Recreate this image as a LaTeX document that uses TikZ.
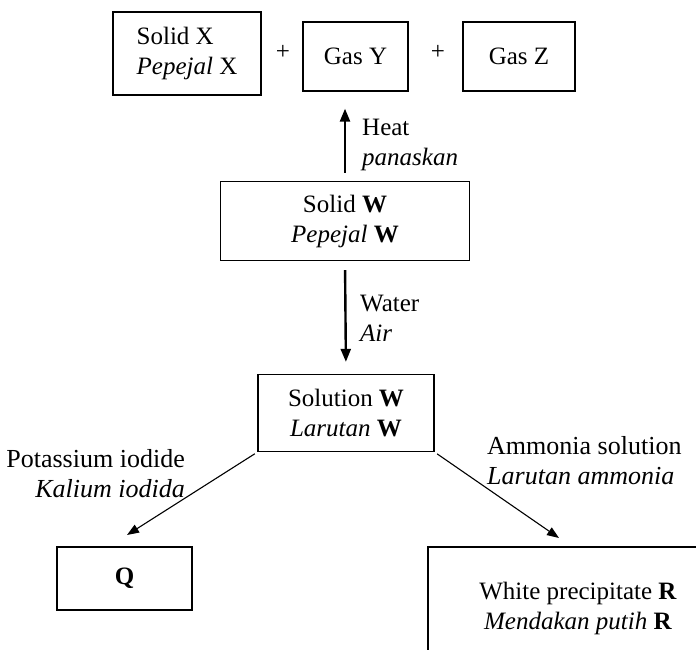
\documentclass[tikz,border=0pt]{standalone}
\usepackage{fontspec}
\setmainfont{Liberation Serif}
\usetikzlibrary{arrows.meta}
\begin{document}
\begin{tikzpicture}[x=1pt,y=-1pt,
  every node/.style={font=\fontsize{25}{30}\selectfont},
  box/.style={draw,line width=1.3pt,inner sep=0pt,align=center},
  lbl/.style={inner sep=0pt},
  side/.style={inner sep=0pt,font=\fontsize{26}{30}\selectfont},
  varr/.style={line width=2.4pt,-{Triangle[length=13pt,width=10pt]}},
  darr/.style={line width=1.1pt,-{Triangle[length=12pt,width=9pt]}}]
\useasboundingbox (0,0) rectangle (696,650);
% top row
\node[box,minimum width=148pt,minimum height=83pt,align=left] (X) at (187,53.5)
  {Solid X\\ \textit{Pepejal} X};
\node[lbl] (p1) at (283,52) {+};
\node[box,minimum width=105pt,minimum height=69pt] (Y) at (355.5,56.5) {Gas Y};
\node[lbl] (p2) at (438,52) {+};
\node[box,minimum width=112pt,minimum height=69pt] (Z) at (519,56.5) {Gas Z};
% solid W
\node[box,minimum width=249pt,minimum height=79pt] (W) at (345,221)
  {Solid \textbf{W}\\ \textit{Pepejal} \textbf{W}};
\draw[varr,shorten <=8pt,shorten >=17pt] (W.north) -- (W.north |- Y.south);
\node[lbl,align=left,anchor=west] (heat) at (362,145) {Heat\\ \textit{panaskan}};
% solution W
\node[box,minimum width=176pt,minimum height=77pt] (S) at (346,413)
  {Solution \textbf{W}\\ \textit{Larutan} \textbf{W}};
\draw[varr,shorten <=9pt,shorten >=12pt] (W.south) -- (S.north);
\node[lbl,align=left,anchor=west] (water) at (360,318) {Water\\ \textit{Air}};
% Q
\node[box,minimum width=135pt,minimum height=63pt] (Q) at (124.5,578.5) {\textbf{Q}};
\coordinate (Qtip) at (127,535);
\draw[darr,shorten <=3pt] (S.south west) -- (Qtip);
\node[side,align=right,anchor=east] (ki) at (185,474)
  {Potassium iodide\\ \textit{Kalium iodida}};
% R
\coordinate (Rc) at (428,547);
\coordinate (Rtip) at (559,538);
\draw[darr,shorten <=3pt] (S.south east) -- (Rtip);
\draw[line width=1.3pt] (Rc |- 0,650) -- (Rc) -- (696,547);
\node[lbl,align=center] (R) at (578,608)
  {White precipitate \textbf{R}\\ \textit{Mendakan putih} \textbf{R}};
\node[side,align=left,anchor=west] (am) at (487,461)
  {Ammonia solution\\ \textit{Larutan ammonia}};
\end{tikzpicture}
\end{document}
